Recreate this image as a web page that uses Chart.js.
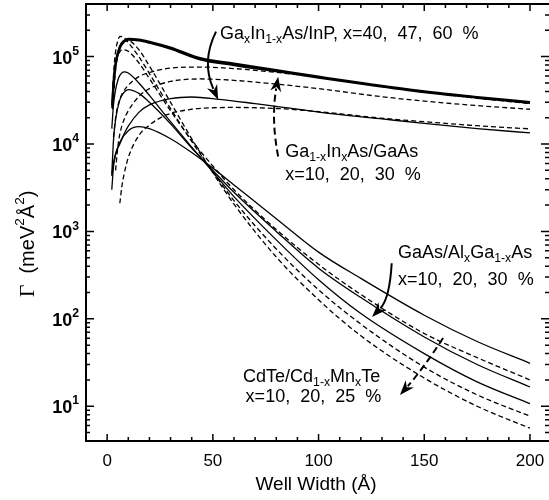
<!DOCTYPE html>
<html>
<head>
<meta charset="utf-8">
<script src="https://cdn.jsdelivr.net/npm/chart.js@4.4.1/dist/chart.umd.min.js"></script>
<style>
  html, body { margin: 0; padding: 0; background: #fff; }
</style>
</head>
<body>
<canvas id="chart" width="549" height="500"></canvas>
<script>
// well width (Angstrom) and broadening Gamma (meV^2 A^2)
const inp40W = [2.4, 3, 4, 6, 8, 10, 15, 20, 30, 44, 60, 80, 100, 120, 150, 175, 200];
const inp40G = [2.8e4, 5e4, 8.5e4, 1.3e5, 1.52e5, 1.6e5, 1.57e5, 1.48e5, 1.27e5, 9.6e4, 8.3e4, 7e4, 5.9e4, 5e4, 4e4, 3.45e4, 3.02e4];
const inp47W = [2.4, 3, 4, 6, 8, 10, 15, 20, 30, 44, 60, 80, 100, 120, 150, 175, 200];
const inp47G = [2.6e4, 4.6e4, 8e4, 1.25e5, 1.48e5, 1.56e5, 1.53e5, 1.44e5, 1.23e5, 9.3e4, 8e4, 6.8e4, 5.75e4, 4.9e4, 3.92e4, 3.38e4, 2.96e4];
const inp60W = [2.2, 3, 4, 6, 8, 10, 15, 20, 30, 40, 53, 70, 80, 100, 129, 150, 175, 200];
const inp60G = [4.3e3, 6e3, 7.8e3, 1e4, 1.3e4, 1.6e4, 2.3e4, 2.8e4, 3.3e4, 3.45e4, 3.25e4, 2.9e4, 2.7e4, 2.32e4, 1.95e4, 1.72e4, 1.5e4, 1.34e4];

const ingaas30W = [3, 4, 5, 7, 10, 15, 20, 30, 44, 60, 80, 100, 129, 150, 175, 200];
const ingaas30G = [1.2e4, 2e4, 2.7e4, 3.7e4, 4.7e4, 5.9e4, 6.6e4, 7.4e4, 7.6e4, 7.3e4, 6.6e4, 5.8e4, 4.6e4, 3.95e4, 3.35e4, 2.9e4];
const ingaas20W = [4, 5, 6, 8, 10, 15, 20, 30, 44, 60, 80, 100, 129, 150, 175, 200];
const ingaas20G = [5e3, 9e3, 1.3e4, 1.9e4, 2.4e4, 3.5e4, 4.3e4, 5.2e4, 5.55e4, 5.35e4, 4.85e4, 4.3e4, 3.5e4, 3.1e4, 2.75e4, 2.5e4];
const ingaas10W = [6, 7, 8, 10, 15, 20, 28, 40, 50, 60, 80, 100, 129, 150, 175, 200];
const ingaas10G = [2.1e3, 3.3e3, 4.5e3, 7e3, 1.25e4, 1.65e4, 2.15e4, 2.5e4, 2.6e4, 2.62e4, 2.55e4, 2.35e4, 1.98e4, 1.8e4, 1.62e4, 1.49e4];

const algaas10W = [2.2, 3, 4, 6, 10, 15, 20, 30, 40, 50, 60, 80, 100, 120, 150, 175, 200];
const algaas10G = [3e3, 5.5e3, 7.5e3, 1.05e4, 1.42e4, 1.58e4, 1.5e4, 1.15e4, 8e3, 5.3e3, 3.4e3, 1.4e3, 580, 290, 110, 55, 31];
const algaas20W = [2.2, 3, 4, 6, 8, 10, 15, 20, 30, 40, 50, 60, 80, 100, 120, 150, 175, 200];
const algaas20G = [4.5e3, 1.1e4, 1.9e4, 3.2e4, 3.9e4, 4.2e4, 3.8e4, 3e4, 1.7e4, 9e3, 5e3, 2.8e3, 1e3, 380, 175, 62, 30, 16.6];
const algaas30W = [2.2, 3, 4, 5, 6, 8, 10, 15, 20, 30, 40, 50, 60, 80, 100, 120, 150, 175, 200];
const algaas30G = [1.5e4, 2.8e4, 4.2e4, 5.3e4, 6.1e4, 6.7e4, 6.5e4, 5e4, 3.6e4, 1.8e4, 9.2e3, 4.8e3, 2.5e3, 800, 280, 115, 40, 19, 10.7];

const cdte10W = [2.5, 3, 4, 5, 7, 10, 15, 20, 30, 40, 50, 60, 80, 100, 120, 150, 175, 200];
const cdte10G = [2.5e4, 4.5e4, 8e4, 1e5, 1.2e5, 1.15e5, 8.5e4, 5.6e4, 2.4e4, 1.1e4, 5.6e3, 3e3, 1.05e3, 420, 190, 68, 36, 20];
const cdte20W = [2.5, 3, 4, 5, 6, 8, 10, 15, 20, 30, 40, 50, 60, 80, 100, 120, 150, 175, 200];
const cdte20G = [3e4, 6e4, 1.15e5, 1.5e5, 1.7e5, 1.65e5, 1.45e5, 1e5, 6.4e4, 2.55e4, 1.07e4, 4.8e3, 2.25e3, 630, 215, 87, 28, 13.5, 7.7];
const cdte25W = [3, 4, 5, 6, 8, 10, 15, 20, 30, 40, 50, 60, 80, 100, 120, 150, 175, 200];
const cdte25G = [3.5e4, 7e4, 1.05e5, 1.3e5, 1.5e5, 1.52e5, 1.2e5, 7.8e4, 3e4, 1.15e4, 4.7e3, 2.05e3, 510, 165, 64, 21, 10, 5.6];

// axis ticks
const xMajorTicks = [0, 50, 100, 150, 200];
const yDecades = [1, 2, 3, 4, 5];

const FONT = "'Liberation Sans', Arial, sans-serif";

function pts(ws, gs) {
    return ws.map((w, i) => ({ x: w, y: gs[i] }));
}

function curve(ws, gs, dashed, width) {
    return {
        data: pts(ws, gs),
        borderColor: '#000',
        borderWidth: width || 1.3,
        borderDash: dashed ? [5, 3] : [],
        pointRadius: 0,
        fill: false,
        cubicInterpolationMode: 'monotone'
    };
}

// draws text with sub/superscripts; kind: '' normal, 'b' sub, 'p' sup, 's' serif
function richText(ctx, x, y, parts, size, measureOnly, weight) {
    let cx = x;
    const wt = weight ? weight + ' ' : '';
    parts.forEach(([txt, kind]) => {
        let fs = size, dy = 0, fam = FONT;
        if (kind === 'b') { fs = size * 0.68; dy = size * 0.32; }
        if (kind === 'p') { fs = size * 0.68; dy = -size * 0.4; }
        if (kind === 's') { fs = size * 1.1; fam = "'Liberation Serif', serif"; }
        ctx.font = wt + fs + 'px ' + fam;
        if (!measureOnly) ctx.fillText(txt, cx, y + dy);
        cx += ctx.measureText(txt).width;
    });
    return cx - x;
}

function arrow(ctx, p0, pc, p1, dashed) {
    const ang = Math.atan2(p1.y - pc.y, p1.x - pc.x);
    const headLen = 15, half = 5.5;
    const bx = p1.x - headLen * 0.8 * Math.cos(ang);
    const by = p1.y - headLen * 0.8 * Math.sin(ang);
    ctx.save();
    ctx.lineWidth = 2;
    ctx.setLineDash(dashed ? [7, 4] : []);
    ctx.beginPath();
    ctx.moveTo(p0.x, p0.y);
    ctx.quadraticCurveTo(pc.x, pc.y, bx, by);
    ctx.stroke();
    ctx.setLineDash([]);
    ctx.beginPath();
    ctx.moveTo(p1.x, p1.y);
    ctx.lineTo(p1.x - headLen * Math.cos(ang) + half * Math.sin(ang), p1.y - headLen * Math.sin(ang) - half * Math.cos(ang));
    ctx.lineTo(p1.x - headLen * 0.7 * Math.cos(ang), p1.y - headLen * 0.7 * Math.sin(ang));
    ctx.lineTo(p1.x - headLen * Math.cos(ang) - half * Math.sin(ang), p1.y - headLen * Math.sin(ang) + half * Math.cos(ang));
    ctx.closePath();
    ctx.fill();
    ctx.restore();
}

const decorations = {
    id: 'decorations',
    afterDraw(chart) {
        const { ctx, chartArea: a, scales: { x, y } } = chart;
        const P = (w, g) => ({ x: x.getPixelForValue(w), y: y.getPixelForValue(g) });
        ctx.save();
        ctx.strokeStyle = '#000';
        ctx.fillStyle = '#000';

        // frame (right side is cut off in the original)
        ctx.lineWidth = 2;
        ctx.beginPath();
        ctx.moveTo(a.right, a.top);
        ctx.lineTo(a.left, a.top);
        ctx.lineTo(a.left, a.bottom);
        ctx.lineTo(a.right, a.bottom);
        ctx.stroke();

        // x ticks, bottom and top
        ctx.lineWidth = 1.5;
        for (let v = 0; v <= 200; v += 10) {
            const px = x.getPixelForValue(v);
            const len = xMajorTicks.includes(v) ? 7 : 4;
            ctx.beginPath();
            ctx.moveTo(px, a.bottom); ctx.lineTo(px, a.bottom - len);
            ctx.moveTo(px, a.top); ctx.lineTo(px, a.top + len);
            ctx.stroke();
        }
        // y ticks, left and right
        for (let d = 0; d <= 5; d++) {
            for (let m = 1; m <= 9; m++) {
                const v = m * Math.pow(10, d);
                if (v < y.min || v > y.max) continue;
                const py = y.getPixelForValue(v);
                const len = m === 1 ? 8 : 4;
                ctx.beginPath();
                ctx.moveTo(a.left, py); ctx.lineTo(a.left + len, py);
                ctx.moveTo(a.right, py); ctx.lineTo(a.right - len, py);
                ctx.stroke();
            }
        }

        // x tick labels
        ctx.textBaseline = 'middle';
        ctx.textAlign = 'center';
        ctx.font = '17px ' + FONT;
        xMajorTicks.forEach(v => ctx.fillText(String(v), x.getPixelForValue(v), 461));

        // y tick labels: 10 with raised exponent
        ctx.textAlign = 'left';
        yDecades.forEach(e => {
            const py = y.getPixelForValue(Math.pow(10, e)) + 2;
            const parts = [['10', ''], [String(e), 'p']];
            const w = richText(ctx, 0, 0, parts, 18, true, 'bold');
            richText(ctx, 79 - w, py, parts, 18, false, 'bold');
        });

        // axis titles
        ctx.font = '19px ' + FONT;
        ctx.textAlign = 'center';
        ctx.fillText('Well Width (\u00c5)', 316, 485);

        ctx.save();
        ctx.translate(28, 244);
        ctx.rotate(-Math.PI / 2);
        ctx.textAlign = 'left';
        const yTitle = [['\u0393', 's'], ['  (meV', ''], ['2', 'p'], ['\u00c5', ''], ['2', 'p'], [')', '']];
        const tw = richText(ctx, 0, 0, yTitle, 20, true);
        richText(ctx, -tw / 2, 0, yTitle, 20);
        ctx.restore();

        // annotations, anchored in data coordinates
        ctx.textAlign = 'left';
        let p = P(53.4, 1.83e5);
        richText(ctx, p.x, p.y, [['Ga', ''], ['x', 'b'], ['In', ''], ['1-x', 'b'], ['As/InP, x=40,  47,  60  %', '']], 18);
        arrow(ctx, P(51.5, 1.93e5), P(44.5, 8.8e4), P(52.5, 3.2e4), false);

        p = P(84.2, 8.2e3);
        richText(ctx, p.x, p.y, [['Ga', ''], ['1-x', 'b'], ['In', ''], ['x', 'b'], ['As/GaAs', '']], 18);
        p = P(84.2, 4.45e3);
        richText(ctx, p.x, p.y, [['x=10,  20,  30  %', '']], 18);
        arrow(ctx, P(80.9, 7.2e3), P(77.5, 1.9e4), P(80.9, 5.9e4), true);

        p = P(137.6, 569);
        richText(ctx, p.x, p.y, [['GaAs/Al', ''], ['x', 'b'], ['Ga', ''], ['1-x', 'b'], ['As', '']], 18);
        p = P(137.6, 279);
        richText(ctx, p.x, p.y, [['x=10,  20,  30  %', '']], 18);
        arrow(ctx, P(134.6, 433), P(133.6, 170), P(125.3, 105), false);

        p = P(64.3, 21.6);
        richText(ctx, p.x, p.y, [['CdTe/Cd', ''], ['1-x', 'b'], ['Mn', ''], ['x', 'b'], ['Te', '']], 18);
        p = P(65.5, 12.7);
        richText(ctx, p.x, p.y, [['x=10,  20,  25  %', '']], 18);
        arrow(ctx, P(158.9, 60.4), P(150, 28), P(138.5, 13.4), true);

        ctx.restore();
    }
};

new Chart(document.getElementById('chart'), {
    type: 'line',
    data: {
        datasets: [
            curve(inp40W, inp40G, false, 2.2),
            curve(inp47W, inp47G, false, 2.2),
            curve(inp60W, inp60G, false),
            curve(ingaas30W, ingaas30G, true),
            curve(ingaas20W, ingaas20G, true),
            curve(ingaas10W, ingaas10G, true),
            curve(algaas10W, algaas10G, false),
            curve(algaas20W, algaas20G, false),
            curve(algaas30W, algaas30G, false),
            curve(cdte10W, cdte10G, true),
            curve(cdte20W, cdte20G, true),
            curve(cdte25W, cdte25G, true)
        ]
    },
    options: {
        responsive: false,
        animation: false,
        events: [],
        layout: { padding: { left: 86, right: 0, top: 4, bottom: 59 } },
        plugins: { legend: { display: false }, tooltip: { enabled: false } },
        scales: {
            x: { type: 'linear', min: -10, max: 209, display: false },
            y: { type: 'logarithmic', min: 4, max: 4e5, display: false }
        }
    },
    plugins: [decorations]
});
</script>
</body>
</html>
